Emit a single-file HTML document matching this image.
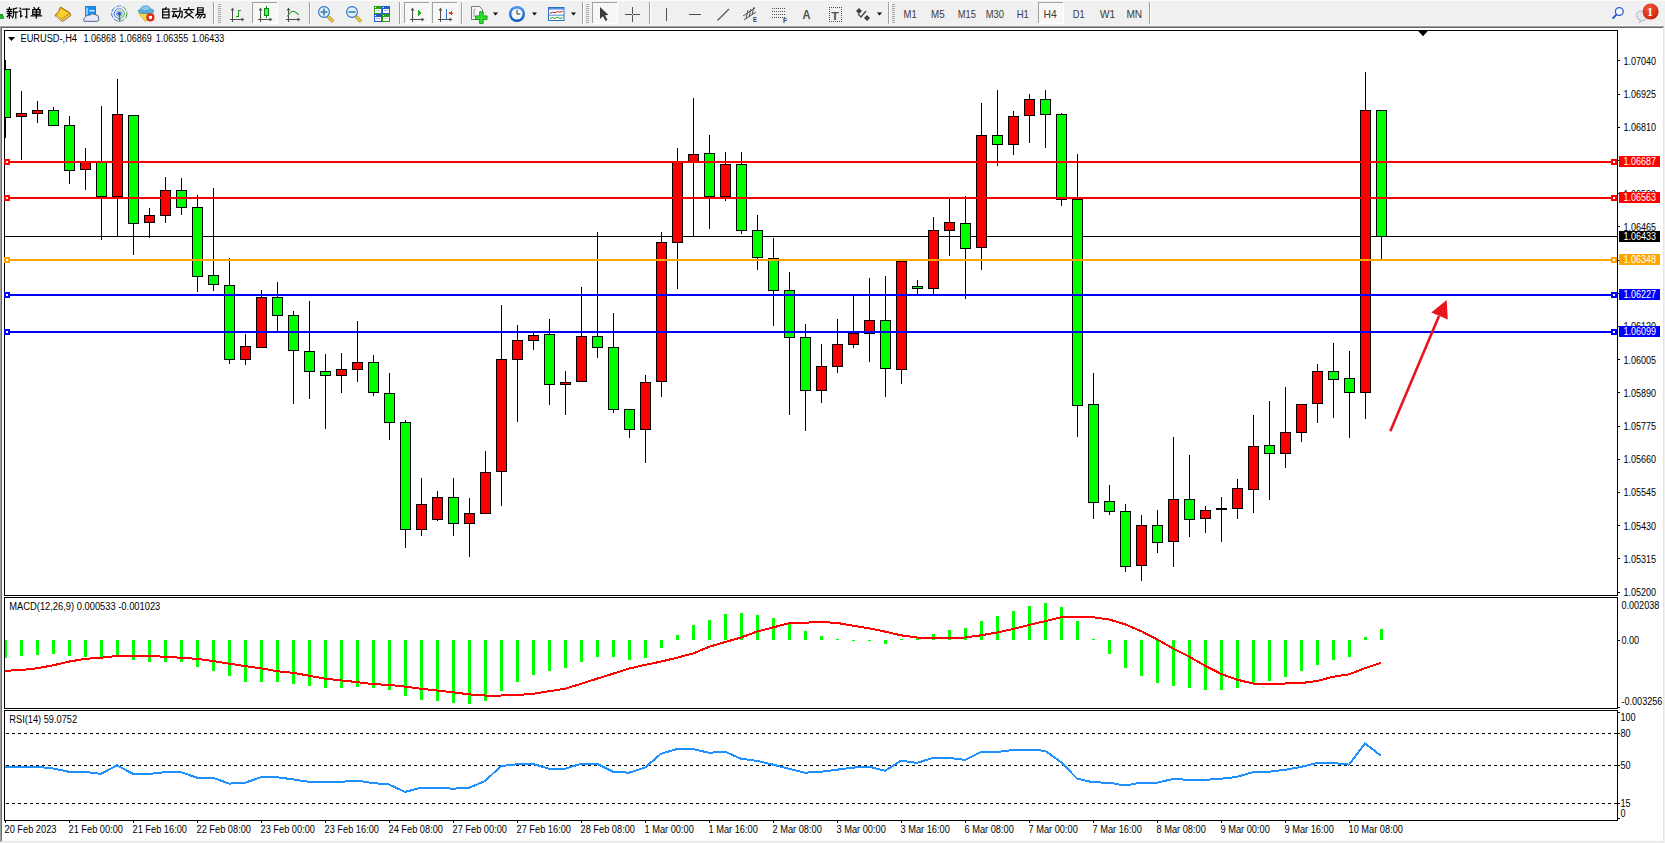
<!DOCTYPE html><html><head><meta charset="utf-8"><style>html,body{margin:0;padding:0;background:#f0f0f0;overflow:hidden;}svg{display:block;}text{font-family:"Liberation Sans",sans-serif;}</style></head><body><svg width="1665" height="843" viewBox="0 0 1665 843" font-family="Liberation Sans, sans-serif" shape-rendering="crispEdges">
<defs><clipPath id="cm"><rect x="5" y="31" width="1612" height="564"/></clipPath><clipPath id="cd"><rect x="5" y="598" width="1612" height="110"/></clipPath><clipPath id="cr"><rect x="5" y="711" width="1612" height="109"/></clipPath></defs>
<rect x="0" y="0" width="1665" height="843" fill="#f0f0f0"/>
<rect x="0" y="0" width="1665" height="1" fill="#fbfbfb"/>
<rect x="0" y="25" width="1664" height="1" fill="#f9f9f9"/>
<rect x="0" y="26" width="1664" height="1" fill="#a0a0a0"/>
<rect x="0" y="26" width="1" height="816" fill="#a0a0a0"/>
<rect x="1" y="27" width="1662" height="1" fill="#696969"/>
<rect x="1" y="27" width="1" height="814" fill="#696969"/>
<rect x="1663" y="27" width="1" height="815" fill="#e3e3e3"/>
<rect x="1" y="841" width="1663" height="1" fill="#e3e3e3"/>
<rect x="2" y="28" width="1661" height="813" fill="#ffffff"/>
<g clip-path="url(#cm)">
<rect x="5" y="236" width="1612" height="1" fill="#000"/>
<rect x="5" y="60" width="1" height="78" fill="#000"/>
<rect x="0" y="69" width="11" height="49" fill="#000"/>
<rect x="1" y="70" width="9" height="47" fill="#00ff00"/>
<rect x="21" y="91" width="1" height="69" fill="#000"/>
<rect x="16" y="113" width="11" height="4" fill="#000"/>
<rect x="17" y="114" width="9" height="2" fill="#ff0000"/>
<rect x="37" y="101" width="1" height="22" fill="#000"/>
<rect x="32" y="110" width="11" height="4" fill="#000"/>
<rect x="33" y="111" width="9" height="2" fill="#ff0000"/>
<rect x="53" y="107" width="1" height="19" fill="#000"/>
<rect x="48" y="110" width="11" height="16" fill="#000"/>
<rect x="49" y="111" width="9" height="14" fill="#00ff00"/>
<rect x="69" y="116" width="1" height="68" fill="#000"/>
<rect x="64" y="125" width="11" height="46" fill="#000"/>
<rect x="65" y="126" width="9" height="44" fill="#00ff00"/>
<rect x="85" y="148" width="1" height="42" fill="#000"/>
<rect x="80" y="162" width="11" height="8" fill="#000"/>
<rect x="81" y="163" width="9" height="6" fill="#ff0000"/>
<rect x="101" y="106" width="1" height="134" fill="#000"/>
<rect x="96" y="162" width="11" height="35" fill="#000"/>
<rect x="97" y="163" width="9" height="33" fill="#00ff00"/>
<rect x="117" y="79" width="1" height="157" fill="#000"/>
<rect x="112" y="114" width="11" height="83" fill="#000"/>
<rect x="113" y="115" width="9" height="81" fill="#ff0000"/>
<rect x="133" y="115" width="1" height="140" fill="#000"/>
<rect x="128" y="115" width="11" height="109" fill="#000"/>
<rect x="129" y="116" width="9" height="107" fill="#00ff00"/>
<rect x="149" y="208" width="1" height="30" fill="#000"/>
<rect x="144" y="215" width="11" height="8" fill="#000"/>
<rect x="145" y="216" width="9" height="6" fill="#ff0000"/>
<rect x="165" y="177" width="1" height="46" fill="#000"/>
<rect x="160" y="190" width="11" height="26" fill="#000"/>
<rect x="161" y="191" width="9" height="24" fill="#ff0000"/>
<rect x="181" y="178" width="1" height="37" fill="#000"/>
<rect x="176" y="190" width="11" height="18" fill="#000"/>
<rect x="177" y="191" width="9" height="16" fill="#00ff00"/>
<rect x="197" y="195" width="1" height="97" fill="#000"/>
<rect x="192" y="207" width="11" height="70" fill="#000"/>
<rect x="193" y="208" width="9" height="68" fill="#00ff00"/>
<rect x="213" y="188" width="1" height="103" fill="#000"/>
<rect x="208" y="275" width="11" height="10" fill="#000"/>
<rect x="209" y="276" width="9" height="8" fill="#00ff00"/>
<rect x="229" y="258" width="1" height="106" fill="#000"/>
<rect x="224" y="285" width="11" height="75" fill="#000"/>
<rect x="225" y="286" width="9" height="73" fill="#00ff00"/>
<rect x="245" y="334" width="1" height="31" fill="#000"/>
<rect x="240" y="346" width="11" height="14" fill="#000"/>
<rect x="241" y="347" width="9" height="12" fill="#ff0000"/>
<rect x="261" y="290" width="1" height="58" fill="#000"/>
<rect x="256" y="297" width="11" height="51" fill="#000"/>
<rect x="257" y="298" width="9" height="49" fill="#ff0000"/>
<rect x="277" y="282" width="1" height="49" fill="#000"/>
<rect x="272" y="297" width="11" height="19" fill="#000"/>
<rect x="273" y="298" width="9" height="17" fill="#00ff00"/>
<rect x="293" y="311" width="1" height="93" fill="#000"/>
<rect x="288" y="315" width="11" height="36" fill="#000"/>
<rect x="289" y="316" width="9" height="34" fill="#00ff00"/>
<rect x="309" y="301" width="1" height="98" fill="#000"/>
<rect x="304" y="351" width="11" height="21" fill="#000"/>
<rect x="305" y="352" width="9" height="19" fill="#00ff00"/>
<rect x="325" y="354" width="1" height="75" fill="#000"/>
<rect x="320" y="371" width="11" height="5" fill="#000"/>
<rect x="321" y="372" width="9" height="3" fill="#00ff00"/>
<rect x="341" y="353" width="1" height="40" fill="#000"/>
<rect x="336" y="369" width="11" height="7" fill="#000"/>
<rect x="337" y="370" width="9" height="5" fill="#ff0000"/>
<rect x="357" y="321" width="1" height="61" fill="#000"/>
<rect x="352" y="362" width="11" height="8" fill="#000"/>
<rect x="353" y="363" width="9" height="6" fill="#ff0000"/>
<rect x="373" y="355" width="1" height="41" fill="#000"/>
<rect x="368" y="362" width="11" height="31" fill="#000"/>
<rect x="369" y="363" width="9" height="29" fill="#00ff00"/>
<rect x="389" y="373" width="1" height="67" fill="#000"/>
<rect x="384" y="393" width="11" height="30" fill="#000"/>
<rect x="385" y="394" width="9" height="28" fill="#00ff00"/>
<rect x="405" y="420" width="1" height="128" fill="#000"/>
<rect x="400" y="422" width="11" height="108" fill="#000"/>
<rect x="401" y="423" width="9" height="106" fill="#00ff00"/>
<rect x="421" y="478" width="1" height="58" fill="#000"/>
<rect x="416" y="504" width="11" height="26" fill="#000"/>
<rect x="417" y="505" width="9" height="24" fill="#ff0000"/>
<rect x="437" y="491" width="1" height="30" fill="#000"/>
<rect x="432" y="497" width="11" height="23" fill="#000"/>
<rect x="433" y="498" width="9" height="21" fill="#ff0000"/>
<rect x="453" y="478" width="1" height="58" fill="#000"/>
<rect x="448" y="497" width="11" height="27" fill="#000"/>
<rect x="449" y="498" width="9" height="25" fill="#00ff00"/>
<rect x="469" y="498" width="1" height="59" fill="#000"/>
<rect x="464" y="513" width="11" height="11" fill="#000"/>
<rect x="465" y="514" width="9" height="9" fill="#ff0000"/>
<rect x="485" y="451" width="1" height="63" fill="#000"/>
<rect x="480" y="472" width="11" height="42" fill="#000"/>
<rect x="481" y="473" width="9" height="40" fill="#ff0000"/>
<rect x="501" y="305" width="1" height="201" fill="#000"/>
<rect x="496" y="359" width="11" height="113" fill="#000"/>
<rect x="497" y="360" width="9" height="111" fill="#ff0000"/>
<rect x="517" y="325" width="1" height="97" fill="#000"/>
<rect x="512" y="340" width="11" height="20" fill="#000"/>
<rect x="513" y="341" width="9" height="18" fill="#ff0000"/>
<rect x="533" y="332" width="1" height="18" fill="#000"/>
<rect x="528" y="335" width="11" height="6" fill="#000"/>
<rect x="529" y="336" width="9" height="4" fill="#ff0000"/>
<rect x="549" y="319" width="1" height="86" fill="#000"/>
<rect x="544" y="334" width="11" height="51" fill="#000"/>
<rect x="545" y="335" width="9" height="49" fill="#00ff00"/>
<rect x="565" y="371" width="1" height="44" fill="#000"/>
<rect x="560" y="382" width="11" height="3" fill="#000"/>
<rect x="561" y="383" width="9" height="1" fill="#ff0000"/>
<rect x="581" y="287" width="1" height="95" fill="#000"/>
<rect x="576" y="336" width="11" height="46" fill="#000"/>
<rect x="577" y="337" width="9" height="44" fill="#ff0000"/>
<rect x="597" y="232" width="1" height="126" fill="#000"/>
<rect x="592" y="336" width="11" height="12" fill="#000"/>
<rect x="593" y="337" width="9" height="10" fill="#00ff00"/>
<rect x="613" y="313" width="1" height="100" fill="#000"/>
<rect x="608" y="347" width="11" height="63" fill="#000"/>
<rect x="609" y="348" width="9" height="61" fill="#00ff00"/>
<rect x="629" y="409" width="1" height="29" fill="#000"/>
<rect x="624" y="409" width="11" height="21" fill="#000"/>
<rect x="625" y="410" width="9" height="19" fill="#00ff00"/>
<rect x="645" y="375" width="1" height="88" fill="#000"/>
<rect x="640" y="382" width="11" height="48" fill="#000"/>
<rect x="641" y="383" width="9" height="46" fill="#ff0000"/>
<rect x="661" y="232" width="1" height="165" fill="#000"/>
<rect x="656" y="242" width="11" height="140" fill="#000"/>
<rect x="657" y="243" width="9" height="138" fill="#ff0000"/>
<rect x="677" y="148" width="1" height="141" fill="#000"/>
<rect x="672" y="162" width="11" height="81" fill="#000"/>
<rect x="673" y="163" width="9" height="79" fill="#ff0000"/>
<rect x="693" y="98" width="1" height="138" fill="#000"/>
<rect x="688" y="154" width="11" height="9" fill="#000"/>
<rect x="689" y="155" width="9" height="7" fill="#ff0000"/>
<rect x="709" y="135" width="1" height="94" fill="#000"/>
<rect x="704" y="153" width="11" height="44" fill="#000"/>
<rect x="705" y="154" width="9" height="42" fill="#00ff00"/>
<rect x="725" y="152" width="1" height="49" fill="#000"/>
<rect x="720" y="164" width="11" height="33" fill="#000"/>
<rect x="721" y="165" width="9" height="31" fill="#ff0000"/>
<rect x="741" y="152" width="1" height="82" fill="#000"/>
<rect x="736" y="164" width="11" height="67" fill="#000"/>
<rect x="737" y="165" width="9" height="65" fill="#00ff00"/>
<rect x="757" y="215" width="1" height="55" fill="#000"/>
<rect x="752" y="230" width="11" height="28" fill="#000"/>
<rect x="753" y="231" width="9" height="26" fill="#00ff00"/>
<rect x="773" y="238" width="1" height="88" fill="#000"/>
<rect x="768" y="258" width="11" height="33" fill="#000"/>
<rect x="769" y="259" width="9" height="31" fill="#00ff00"/>
<rect x="789" y="272" width="1" height="143" fill="#000"/>
<rect x="784" y="290" width="11" height="48" fill="#000"/>
<rect x="785" y="291" width="9" height="46" fill="#00ff00"/>
<rect x="805" y="324" width="1" height="107" fill="#000"/>
<rect x="800" y="337" width="11" height="54" fill="#000"/>
<rect x="801" y="338" width="9" height="52" fill="#00ff00"/>
<rect x="821" y="344" width="1" height="59" fill="#000"/>
<rect x="816" y="366" width="11" height="25" fill="#000"/>
<rect x="817" y="367" width="9" height="23" fill="#ff0000"/>
<rect x="837" y="319" width="1" height="54" fill="#000"/>
<rect x="832" y="344" width="11" height="23" fill="#000"/>
<rect x="833" y="345" width="9" height="21" fill="#ff0000"/>
<rect x="853" y="296" width="1" height="52" fill="#000"/>
<rect x="848" y="333" width="11" height="12" fill="#000"/>
<rect x="849" y="334" width="9" height="10" fill="#ff0000"/>
<rect x="869" y="278" width="1" height="84" fill="#000"/>
<rect x="864" y="320" width="11" height="14" fill="#000"/>
<rect x="865" y="321" width="9" height="12" fill="#ff0000"/>
<rect x="885" y="276" width="1" height="121" fill="#000"/>
<rect x="880" y="320" width="11" height="49" fill="#000"/>
<rect x="881" y="321" width="9" height="47" fill="#00ff00"/>
<rect x="901" y="261" width="1" height="123" fill="#000"/>
<rect x="896" y="261" width="11" height="109" fill="#000"/>
<rect x="897" y="262" width="9" height="107" fill="#ff0000"/>
<rect x="917" y="280" width="1" height="14" fill="#000"/>
<rect x="912" y="286" width="11" height="3" fill="#000"/>
<rect x="913" y="287" width="9" height="1" fill="#00ff00"/>
<rect x="933" y="217" width="1" height="77" fill="#000"/>
<rect x="928" y="230" width="11" height="59" fill="#000"/>
<rect x="929" y="231" width="9" height="57" fill="#ff0000"/>
<rect x="949" y="199" width="1" height="57" fill="#000"/>
<rect x="944" y="222" width="11" height="9" fill="#000"/>
<rect x="945" y="223" width="9" height="7" fill="#ff0000"/>
<rect x="965" y="196" width="1" height="103" fill="#000"/>
<rect x="960" y="223" width="11" height="26" fill="#000"/>
<rect x="961" y="224" width="9" height="24" fill="#00ff00"/>
<rect x="981" y="103" width="1" height="167" fill="#000"/>
<rect x="976" y="135" width="11" height="113" fill="#000"/>
<rect x="977" y="136" width="9" height="111" fill="#ff0000"/>
<rect x="997" y="90" width="1" height="76" fill="#000"/>
<rect x="992" y="135" width="11" height="10" fill="#000"/>
<rect x="993" y="136" width="9" height="8" fill="#00ff00"/>
<rect x="1013" y="111" width="1" height="44" fill="#000"/>
<rect x="1008" y="116" width="11" height="29" fill="#000"/>
<rect x="1009" y="117" width="9" height="27" fill="#ff0000"/>
<rect x="1029" y="94" width="1" height="49" fill="#000"/>
<rect x="1024" y="99" width="11" height="17" fill="#000"/>
<rect x="1025" y="100" width="9" height="15" fill="#ff0000"/>
<rect x="1045" y="90" width="1" height="58" fill="#000"/>
<rect x="1040" y="99" width="11" height="16" fill="#000"/>
<rect x="1041" y="100" width="9" height="14" fill="#00ff00"/>
<rect x="1061" y="113" width="1" height="93" fill="#000"/>
<rect x="1056" y="114" width="11" height="86" fill="#000"/>
<rect x="1057" y="115" width="9" height="84" fill="#00ff00"/>
<rect x="1077" y="154" width="1" height="283" fill="#000"/>
<rect x="1072" y="199" width="11" height="207" fill="#000"/>
<rect x="1073" y="200" width="9" height="205" fill="#00ff00"/>
<rect x="1093" y="373" width="1" height="146" fill="#000"/>
<rect x="1088" y="404" width="11" height="99" fill="#000"/>
<rect x="1089" y="405" width="9" height="97" fill="#00ff00"/>
<rect x="1109" y="485" width="1" height="30" fill="#000"/>
<rect x="1104" y="501" width="11" height="11" fill="#000"/>
<rect x="1105" y="502" width="9" height="9" fill="#00ff00"/>
<rect x="1125" y="504" width="1" height="68" fill="#000"/>
<rect x="1120" y="511" width="11" height="56" fill="#000"/>
<rect x="1121" y="512" width="9" height="54" fill="#00ff00"/>
<rect x="1141" y="515" width="1" height="66" fill="#000"/>
<rect x="1136" y="525" width="11" height="41" fill="#000"/>
<rect x="1137" y="526" width="9" height="39" fill="#ff0000"/>
<rect x="1157" y="510" width="1" height="43" fill="#000"/>
<rect x="1152" y="525" width="11" height="18" fill="#000"/>
<rect x="1153" y="526" width="9" height="16" fill="#00ff00"/>
<rect x="1173" y="437" width="1" height="130" fill="#000"/>
<rect x="1168" y="499" width="11" height="43" fill="#000"/>
<rect x="1169" y="500" width="9" height="41" fill="#ff0000"/>
<rect x="1189" y="455" width="1" height="82" fill="#000"/>
<rect x="1184" y="499" width="11" height="21" fill="#000"/>
<rect x="1185" y="500" width="9" height="19" fill="#00ff00"/>
<rect x="1205" y="506" width="1" height="27" fill="#000"/>
<rect x="1200" y="510" width="11" height="9" fill="#000"/>
<rect x="1201" y="511" width="9" height="7" fill="#ff0000"/>
<rect x="1221" y="497" width="1" height="45" fill="#000"/>
<rect x="1216" y="508" width="11" height="2" fill="#000"/>
<rect x="1237" y="479" width="1" height="40" fill="#000"/>
<rect x="1232" y="488" width="11" height="21" fill="#000"/>
<rect x="1233" y="489" width="9" height="19" fill="#ff0000"/>
<rect x="1253" y="415" width="1" height="98" fill="#000"/>
<rect x="1248" y="446" width="11" height="44" fill="#000"/>
<rect x="1249" y="447" width="9" height="42" fill="#ff0000"/>
<rect x="1269" y="401" width="1" height="99" fill="#000"/>
<rect x="1264" y="445" width="11" height="9" fill="#000"/>
<rect x="1265" y="446" width="9" height="7" fill="#00ff00"/>
<rect x="1285" y="387" width="1" height="81" fill="#000"/>
<rect x="1280" y="432" width="11" height="22" fill="#000"/>
<rect x="1281" y="433" width="9" height="20" fill="#ff0000"/>
<rect x="1301" y="404" width="1" height="38" fill="#000"/>
<rect x="1296" y="404" width="11" height="29" fill="#000"/>
<rect x="1297" y="405" width="9" height="27" fill="#ff0000"/>
<rect x="1317" y="364" width="1" height="59" fill="#000"/>
<rect x="1312" y="371" width="11" height="33" fill="#000"/>
<rect x="1313" y="372" width="9" height="31" fill="#ff0000"/>
<rect x="1333" y="343" width="1" height="75" fill="#000"/>
<rect x="1328" y="371" width="11" height="9" fill="#000"/>
<rect x="1329" y="372" width="9" height="7" fill="#00ff00"/>
<rect x="1349" y="351" width="1" height="87" fill="#000"/>
<rect x="1344" y="378" width="11" height="15" fill="#000"/>
<rect x="1345" y="379" width="9" height="13" fill="#00ff00"/>
<rect x="1365" y="72" width="1" height="347" fill="#000"/>
<rect x="1360" y="110" width="11" height="283" fill="#000"/>
<rect x="1361" y="111" width="9" height="281" fill="#ff0000"/>
<rect x="1381" y="110" width="1" height="149" fill="#000"/>
<rect x="1376" y="110" width="11" height="127" fill="#000"/>
<rect x="1377" y="111" width="9" height="125" fill="#00ff00"/>
</g>
<rect x="5" y="161" width="1612" height="2" fill="#ff0000"/>
<rect x="4" y="159" width="6" height="6" fill="#ff0000"/>
<rect x="6" y="161" width="2" height="2" fill="#fff"/>
<rect x="1611" y="159" width="6" height="6" fill="#ff0000"/>
<rect x="1613" y="161" width="2" height="2" fill="#fff"/>
<rect x="5" y="197" width="1612" height="2" fill="#ff0000"/>
<rect x="4" y="195" width="6" height="6" fill="#ff0000"/>
<rect x="6" y="197" width="2" height="2" fill="#fff"/>
<rect x="1611" y="195" width="6" height="6" fill="#ff0000"/>
<rect x="1613" y="197" width="2" height="2" fill="#fff"/>
<rect x="5" y="259" width="1612" height="2" fill="#ffa500"/>
<rect x="4" y="257" width="6" height="6" fill="#ffa500"/>
<rect x="6" y="259" width="2" height="2" fill="#fff"/>
<rect x="1611" y="257" width="6" height="6" fill="#ffa500"/>
<rect x="1613" y="259" width="2" height="2" fill="#fff"/>
<rect x="5" y="294" width="1612" height="2" fill="#0000ff"/>
<rect x="4" y="292" width="6" height="6" fill="#0000ff"/>
<rect x="6" y="294" width="2" height="2" fill="#fff"/>
<rect x="1611" y="292" width="6" height="6" fill="#0000ff"/>
<rect x="1613" y="294" width="2" height="2" fill="#fff"/>
<rect x="5" y="331" width="1612" height="2" fill="#0000ff"/>
<rect x="4" y="329" width="6" height="6" fill="#0000ff"/>
<rect x="6" y="331" width="2" height="2" fill="#fff"/>
<rect x="1611" y="329" width="6" height="6" fill="#0000ff"/>
<rect x="1613" y="331" width="2" height="2" fill="#fff"/>
<polygon points="1417.5,30 1428.5,30 1423,36" fill="#000" shape-rendering="auto"/>
<g shape-rendering="auto"><line x1="1390.3" y1="431.2" x2="1439" y2="316" stroke="#e8141e" stroke-width="2.6"/><polygon points="1446.7,300 1431.3,312.5 1447.8,319.5" fill="#e8141e"/></g>
<g clip-path="url(#cd)">
<rect x="4" y="640" width="3" height="18" fill="#00ff00"/>
<rect x="20" y="640" width="3" height="16" fill="#00ff00"/>
<rect x="36" y="640" width="3" height="15" fill="#00ff00"/>
<rect x="52" y="640" width="3" height="14" fill="#00ff00"/>
<rect x="68" y="640" width="3" height="16" fill="#00ff00"/>
<rect x="84" y="640" width="3" height="17" fill="#00ff00"/>
<rect x="100" y="640" width="3" height="18" fill="#00ff00"/>
<rect x="116" y="640" width="3" height="16" fill="#00ff00"/>
<rect x="132" y="640" width="3" height="20" fill="#00ff00"/>
<rect x="148" y="640" width="3" height="22" fill="#00ff00"/>
<rect x="164" y="640" width="3" height="22" fill="#00ff00"/>
<rect x="180" y="640" width="3" height="22" fill="#00ff00"/>
<rect x="196" y="640" width="3" height="27" fill="#00ff00"/>
<rect x="212" y="640" width="3" height="31" fill="#00ff00"/>
<rect x="228" y="640" width="3" height="36" fill="#00ff00"/>
<rect x="244" y="640" width="3" height="42" fill="#00ff00"/>
<rect x="260" y="640" width="3" height="42" fill="#00ff00"/>
<rect x="276" y="640" width="3" height="42" fill="#00ff00"/>
<rect x="292" y="640" width="3" height="44" fill="#00ff00"/>
<rect x="308" y="640" width="3" height="46" fill="#00ff00"/>
<rect x="324" y="640" width="3" height="48" fill="#00ff00"/>
<rect x="340" y="640" width="3" height="48" fill="#00ff00"/>
<rect x="356" y="640" width="3" height="47" fill="#00ff00"/>
<rect x="372" y="640" width="3" height="48" fill="#00ff00"/>
<rect x="388" y="640" width="3" height="50" fill="#00ff00"/>
<rect x="404" y="640" width="3" height="56" fill="#00ff00"/>
<rect x="420" y="640" width="3" height="60" fill="#00ff00"/>
<rect x="436" y="640" width="3" height="61" fill="#00ff00"/>
<rect x="452" y="640" width="3" height="63" fill="#00ff00"/>
<rect x="468" y="640" width="3" height="64" fill="#00ff00"/>
<rect x="484" y="640" width="3" height="61" fill="#00ff00"/>
<rect x="500" y="640" width="3" height="51" fill="#00ff00"/>
<rect x="516" y="640" width="3" height="42" fill="#00ff00"/>
<rect x="532" y="640" width="3" height="35" fill="#00ff00"/>
<rect x="548" y="640" width="3" height="31" fill="#00ff00"/>
<rect x="564" y="640" width="3" height="28" fill="#00ff00"/>
<rect x="580" y="640" width="3" height="22" fill="#00ff00"/>
<rect x="596" y="640" width="3" height="17" fill="#00ff00"/>
<rect x="612" y="640" width="3" height="17" fill="#00ff00"/>
<rect x="628" y="640" width="3" height="20" fill="#00ff00"/>
<rect x="644" y="640" width="3" height="18" fill="#00ff00"/>
<rect x="660" y="640" width="3" height="8" fill="#00ff00"/>
<rect x="676" y="635" width="3" height="5" fill="#00ff00"/>
<rect x="692" y="625" width="3" height="15" fill="#00ff00"/>
<rect x="708" y="620" width="3" height="20" fill="#00ff00"/>
<rect x="724" y="614" width="3" height="26" fill="#00ff00"/>
<rect x="740" y="613" width="3" height="27" fill="#00ff00"/>
<rect x="756" y="615" width="3" height="25" fill="#00ff00"/>
<rect x="772" y="618" width="3" height="22" fill="#00ff00"/>
<rect x="788" y="623" width="3" height="17" fill="#00ff00"/>
<rect x="804" y="631" width="3" height="9" fill="#00ff00"/>
<rect x="820" y="636" width="3" height="4" fill="#00ff00"/>
<rect x="836" y="639" width="3" height="1" fill="#00ff00"/>
<rect x="852" y="640" width="3" height="1" fill="#00ff00"/>
<rect x="868" y="640" width="3" height="1" fill="#00ff00"/>
<rect x="884" y="640" width="3" height="4" fill="#00ff00"/>
<rect x="900" y="639" width="3" height="1" fill="#00ff00"/>
<rect x="916" y="638" width="3" height="2" fill="#00ff00"/>
<rect x="932" y="634" width="3" height="6" fill="#00ff00"/>
<rect x="948" y="630" width="3" height="10" fill="#00ff00"/>
<rect x="964" y="628" width="3" height="12" fill="#00ff00"/>
<rect x="980" y="621" width="3" height="19" fill="#00ff00"/>
<rect x="996" y="616" width="3" height="24" fill="#00ff00"/>
<rect x="1012" y="611" width="3" height="29" fill="#00ff00"/>
<rect x="1028" y="606" width="3" height="34" fill="#00ff00"/>
<rect x="1044" y="603" width="3" height="37" fill="#00ff00"/>
<rect x="1060" y="607" width="3" height="33" fill="#00ff00"/>
<rect x="1076" y="621" width="3" height="19" fill="#00ff00"/>
<rect x="1092" y="639" width="3" height="1" fill="#00ff00"/>
<rect x="1108" y="640" width="3" height="14" fill="#00ff00"/>
<rect x="1124" y="640" width="3" height="28" fill="#00ff00"/>
<rect x="1140" y="640" width="3" height="36" fill="#00ff00"/>
<rect x="1156" y="640" width="3" height="43" fill="#00ff00"/>
<rect x="1172" y="640" width="3" height="46" fill="#00ff00"/>
<rect x="1188" y="640" width="3" height="48" fill="#00ff00"/>
<rect x="1204" y="640" width="3" height="50" fill="#00ff00"/>
<rect x="1220" y="640" width="3" height="50" fill="#00ff00"/>
<rect x="1236" y="640" width="3" height="48" fill="#00ff00"/>
<rect x="1252" y="640" width="3" height="43" fill="#00ff00"/>
<rect x="1268" y="640" width="3" height="41" fill="#00ff00"/>
<rect x="1284" y="640" width="3" height="37" fill="#00ff00"/>
<rect x="1300" y="640" width="3" height="31" fill="#00ff00"/>
<rect x="1316" y="640" width="3" height="25" fill="#00ff00"/>
<rect x="1332" y="640" width="3" height="20" fill="#00ff00"/>
<rect x="1348" y="640" width="3" height="17" fill="#00ff00"/>
<rect x="1364" y="637" width="3" height="3" fill="#00ff00"/>
<rect x="1380" y="629" width="3" height="11" fill="#00ff00"/>
<polyline points="5,670.8 21,670 37,668.3 53,665.3 69,661.6 85,658.9 101,657.7 117,656 133,655.7 149,655.7 165,656.9 181,657.7 197,658.9 213,661 229,663.6 245,666.1 261,668.3 277,671.2 293,672.8 309,675.7 325,678.7 341,680.4 357,682.1 373,684.1 389,684.9 405,686.6 421,688.8 437,690.5 453,692.2 469,694.4 485,695.5 501,695.5 517,695 533,693.9 549,691.2 565,688.8 581,683.8 597,678.7 613,673.7 629,668.6 645,664.9 661,661.6 677,657.7 693,653.5 709,646.8 725,642.1 741,637.5 757,631.6 773,627.4 789,623.2 805,622.7 821,622 837,622.9 853,625.7 869,628.3 885,631.6 901,635.3 917,637.5 933,637.9 949,637.9 965,637.5 981,635.3 997,632.5 1013,629.1 1029,624.9 1045,621.2 1061,617.3 1077,616.8 1093,617.2 1109,619.5 1125,624.3 1141,631.1 1157,639.3 1173,648.4 1189,656.6 1205,665.7 1221,673.9 1237,679.7 1253,683.5 1269,683.5 1285,683.5 1301,683.1 1317,681 1333,676.8 1349,674.3 1365,668.2 1381,662.8" fill="none" stroke="#ff0000" stroke-width="2" stroke-linejoin="round"/>
</g>
<g clip-path="url(#cr)">
<line x1="6" y1="733.5" x2="1617" y2="733.5" stroke="#000" stroke-width="1" stroke-dasharray="3,3"/>
<line x1="6" y1="765.5" x2="1617" y2="765.5" stroke="#000" stroke-width="1" stroke-dasharray="3,3"/>
<line x1="6" y1="803.5" x2="1617" y2="803.5" stroke="#000" stroke-width="1" stroke-dasharray="3,3"/>
<polyline points="5,766.8 21,766.8 37,766.8 53,768.5 69,771.8 85,771.8 101,773.9 117,765.3 133,773.9 149,773.9 165,772.2 181,772.2 197,777.7 213,777.7 229,783.6 245,782.8 261,777.2 277,777.2 293,779.4 309,781.8 325,781.8 341,781.8 357,780.6 373,783.1 389,784.5 405,791.9 421,787.8 437,787.8 453,788.7 469,787.8 485,781.1 501,766 517,764.3 533,763.8 549,768.8 565,768.8 581,763.8 597,763.8 613,771.7 629,772.7 645,767.6 661,753.7 677,749.1 693,749.1 709,752.8 725,751.7 741,758.7 757,760.9 773,764.6 789,768.8 805,772.7 821,771.7 837,769.7 853,767.6 869,766.6 885,770.8 901,760.7 917,762.9 933,757.9 949,757.9 965,759.9 981,752 997,752 1013,750 1029,750 1045,750.7 1061,762.1 1077,778.6 1093,782.3 1109,782.7 1125,785.5 1141,782.7 1157,782.7 1173,779 1189,779.8 1205,779.8 1221,778.8 1237,776.9 1253,772.1 1269,771.7 1285,769.8 1301,766.9 1317,763 1333,763 1349,764.6 1365,743.4 1381,755.7" fill="none" stroke="#1e90ff" stroke-width="2" stroke-linejoin="round"/>
</g>
<rect x="4" y="30" width="1614" height="1" fill="#000"/>
<rect x="4" y="595" width="1614" height="1" fill="#000"/>
<rect x="4" y="30" width="1" height="566" fill="#000"/>
<rect x="1617" y="30" width="1" height="566" fill="#000"/>
<rect x="4" y="597" width="1614" height="1" fill="#000"/>
<rect x="4" y="708" width="1614" height="1" fill="#000"/>
<rect x="4" y="597" width="1" height="112" fill="#000"/>
<rect x="1617" y="597" width="1" height="112" fill="#000"/>
<rect x="4" y="710" width="1614" height="1" fill="#000"/>
<rect x="4" y="820" width="1614" height="1" fill="#000"/>
<rect x="4" y="710" width="1" height="111" fill="#000"/>
<rect x="1617" y="710" width="1" height="111" fill="#000"/>
<rect x="4" y="159" width="6" height="6" fill="#ff0000"/>
<rect x="6" y="161" width="2" height="2" fill="#fff"/>
<rect x="4" y="195" width="6" height="6" fill="#ff0000"/>
<rect x="6" y="197" width="2" height="2" fill="#fff"/>
<rect x="4" y="257" width="6" height="6" fill="#ffa500"/>
<rect x="6" y="259" width="2" height="2" fill="#fff"/>
<rect x="4" y="292" width="6" height="6" fill="#0000ff"/>
<rect x="6" y="294" width="2" height="2" fill="#fff"/>
<rect x="4" y="329" width="6" height="6" fill="#0000ff"/>
<rect x="6" y="331" width="2" height="2" fill="#fff"/>
<polygon points="1417.5,30 1428.5,30 1423,36" fill="#000" shape-rendering="auto"/>
<polygon points="8,37 15,37 11.5,41" fill="#000" shape-rendering="auto"/>
<g shape-rendering="auto">
<text x="20.5" y="41.8" font-size="10" fill="#000" textLength="56.50" lengthAdjust="spacingAndGlyphs">EURUSD-,H4</text>
<text x="83.5" y="41.8" font-size="10" fill="#000" textLength="32.60" lengthAdjust="spacingAndGlyphs">1.06868</text>
<text x="119.3" y="41.8" font-size="10" fill="#000" textLength="32.60" lengthAdjust="spacingAndGlyphs">1.06869</text>
<text x="155.7" y="41.8" font-size="10" fill="#000" textLength="32.60" lengthAdjust="spacingAndGlyphs">1.06355</text>
<text x="191.7" y="41.8" font-size="10" fill="#000" textLength="32.60" lengthAdjust="spacingAndGlyphs">1.06433</text>
<text x="9.3" y="609.8" font-size="10" fill="#000" textLength="151.00" lengthAdjust="spacingAndGlyphs">MACD(12,26,9) 0.000533 -0.001023</text>
<text x="9.3" y="723" font-size="10" fill="#000" textLength="67.80" lengthAdjust="spacingAndGlyphs">RSI(14) 59.0752</text>
<rect x="1618" y="60" width="2" height="1" fill="#000" shape-rendering="crispEdges"/>
<text x="1623.5" y="64.8" font-size="10" fill="#000" textLength="32.60" lengthAdjust="spacingAndGlyphs">1.07040</text>
<rect x="1618" y="94" width="2" height="1" fill="#000" shape-rendering="crispEdges"/>
<text x="1623.5" y="98.0" font-size="10" fill="#000" textLength="32.60" lengthAdjust="spacingAndGlyphs">1.06925</text>
<rect x="1618" y="127" width="2" height="1" fill="#000" shape-rendering="crispEdges"/>
<text x="1623.5" y="131.2" font-size="10" fill="#000" textLength="32.60" lengthAdjust="spacingAndGlyphs">1.06810</text>
<rect x="1618" y="160" width="2" height="1" fill="#000" shape-rendering="crispEdges"/>
<text x="1623.5" y="164.4" font-size="10" fill="#000" textLength="32.60" lengthAdjust="spacingAndGlyphs">1.06695</text>
<rect x="1618" y="193" width="2" height="1" fill="#000" shape-rendering="crispEdges"/>
<text x="1623.5" y="197.60000000000002" font-size="10" fill="#000" textLength="32.60" lengthAdjust="spacingAndGlyphs">1.06580</text>
<rect x="1618" y="226" width="2" height="1" fill="#000" shape-rendering="crispEdges"/>
<text x="1623.5" y="230.8" font-size="10" fill="#000" textLength="32.60" lengthAdjust="spacingAndGlyphs">1.06465</text>
<rect x="1618" y="260" width="2" height="1" fill="#000" shape-rendering="crispEdges"/>
<text x="1623.5" y="264.0" font-size="10" fill="#000" textLength="32.60" lengthAdjust="spacingAndGlyphs">1.06350</text>
<rect x="1618" y="293" width="2" height="1" fill="#000" shape-rendering="crispEdges"/>
<text x="1623.5" y="297.20000000000005" font-size="10" fill="#000" textLength="32.60" lengthAdjust="spacingAndGlyphs">1.06235</text>
<rect x="1618" y="326" width="2" height="1" fill="#000" shape-rendering="crispEdges"/>
<text x="1623.5" y="330.40000000000003" font-size="10" fill="#000" textLength="32.60" lengthAdjust="spacingAndGlyphs">1.06120</text>
<rect x="1618" y="359" width="2" height="1" fill="#000" shape-rendering="crispEdges"/>
<text x="1623.5" y="363.6" font-size="10" fill="#000" textLength="32.60" lengthAdjust="spacingAndGlyphs">1.06005</text>
<rect x="1618" y="392" width="2" height="1" fill="#000" shape-rendering="crispEdges"/>
<text x="1623.5" y="396.8" font-size="10" fill="#000" textLength="32.60" lengthAdjust="spacingAndGlyphs">1.05890</text>
<rect x="1618" y="426" width="2" height="1" fill="#000" shape-rendering="crispEdges"/>
<text x="1623.5" y="430.00000000000006" font-size="10" fill="#000" textLength="32.60" lengthAdjust="spacingAndGlyphs">1.05775</text>
<rect x="1618" y="459" width="2" height="1" fill="#000" shape-rendering="crispEdges"/>
<text x="1623.5" y="463.20000000000005" font-size="10" fill="#000" textLength="32.60" lengthAdjust="spacingAndGlyphs">1.05660</text>
<rect x="1618" y="492" width="2" height="1" fill="#000" shape-rendering="crispEdges"/>
<text x="1623.5" y="496.40000000000003" font-size="10" fill="#000" textLength="32.60" lengthAdjust="spacingAndGlyphs">1.05545</text>
<rect x="1618" y="525" width="2" height="1" fill="#000" shape-rendering="crispEdges"/>
<text x="1623.5" y="529.6" font-size="10" fill="#000" textLength="32.60" lengthAdjust="spacingAndGlyphs">1.05430</text>
<rect x="1618" y="558" width="2" height="1" fill="#000" shape-rendering="crispEdges"/>
<text x="1623.5" y="562.8000000000001" font-size="10" fill="#000" textLength="32.60" lengthAdjust="spacingAndGlyphs">1.05315</text>
<rect x="1618" y="592" width="2" height="1" fill="#000" shape-rendering="crispEdges"/>
<text x="1623.5" y="596.0" font-size="10" fill="#000" textLength="32.60" lengthAdjust="spacingAndGlyphs">1.05200</text>
<rect x="1619" y="156" width="41" height="11" fill="#ff0000" shape-rendering="crispEdges"/>
<text x="1623.5" y="165.3" font-size="10" fill="#fff" textLength="32.60" lengthAdjust="spacingAndGlyphs">1.06687</text>
<rect x="1619" y="192" width="41" height="11" fill="#ff0000" shape-rendering="crispEdges"/>
<text x="1623.5" y="201.3" font-size="10" fill="#fff" textLength="32.60" lengthAdjust="spacingAndGlyphs">1.06563</text>
<rect x="1619" y="231" width="41" height="11" fill="#000000" shape-rendering="crispEdges"/>
<text x="1623.5" y="240.3" font-size="10" fill="#fff" textLength="32.60" lengthAdjust="spacingAndGlyphs">1.06433</text>
<rect x="1619" y="254" width="41" height="11" fill="#ffa500" shape-rendering="crispEdges"/>
<text x="1623.5" y="263.3" font-size="10" fill="#fff" textLength="32.60" lengthAdjust="spacingAndGlyphs">1.06348</text>
<rect x="1619" y="289" width="41" height="11" fill="#0000ff" shape-rendering="crispEdges"/>
<text x="1623.5" y="298.3" font-size="10" fill="#fff" textLength="32.60" lengthAdjust="spacingAndGlyphs">1.06227</text>
<rect x="1619" y="326" width="41" height="11" fill="#0000ff" shape-rendering="crispEdges"/>
<text x="1623.5" y="335.3" font-size="10" fill="#fff" textLength="32.60" lengthAdjust="spacingAndGlyphs">1.06099</text>
<text x="1621.4" y="608.5" font-size="10" fill="#000" textLength="37.95" lengthAdjust="spacingAndGlyphs">0.002038</text>
<text x="1621.4" y="644.2" font-size="10" fill="#000" textLength="17.71" lengthAdjust="spacingAndGlyphs">0.00</text>
<text x="1621.4" y="705.3000000000001" font-size="10" fill="#000" textLength="40.98" lengthAdjust="spacingAndGlyphs">-0.003256</text>
<rect x="1618" y="640" width="2" height="1" fill="#000" shape-rendering="crispEdges"/>
<rect x="1618" y="707" width="2" height="1" fill="#000" shape-rendering="crispEdges"/>
<text x="1620.5" y="721.2" font-size="10" fill="#000" textLength="15.18" lengthAdjust="spacingAndGlyphs">100</text>
<text x="1620.5" y="737.2" font-size="10" fill="#000" textLength="10.12" lengthAdjust="spacingAndGlyphs">80</text>
<text x="1620.5" y="769.0" font-size="10" fill="#000" textLength="10.12" lengthAdjust="spacingAndGlyphs">50</text>
<text x="1620.5" y="806.7" font-size="10" fill="#000" textLength="10.12" lengthAdjust="spacingAndGlyphs">15</text>
<text x="1620.5" y="816.9000000000001" font-size="10" fill="#000" textLength="5.06" lengthAdjust="spacingAndGlyphs">0</text>
<rect x="1618" y="712" width="2" height="1" fill="#000" shape-rendering="crispEdges"/>
<rect x="1618" y="733" width="2" height="1" fill="#000" shape-rendering="crispEdges"/>
<rect x="1618" y="765" width="2" height="1" fill="#000" shape-rendering="crispEdges"/>
<rect x="1618" y="803" width="2" height="1" fill="#000" shape-rendering="crispEdges"/>
<rect x="1618" y="818" width="2" height="1" fill="#000" shape-rendering="crispEdges"/>
<rect x="5" y="821" width="1" height="2" fill="#000" shape-rendering="crispEdges"/>
<text x="4.5" y="832.6" font-size="10" fill="#000" textLength="51.94" lengthAdjust="spacingAndGlyphs">20 Feb 2023</text>
<rect x="69" y="821" width="1" height="2" fill="#000" shape-rendering="crispEdges"/>
<text x="68.5" y="832.6" font-size="10" fill="#000" textLength="54.51" lengthAdjust="spacingAndGlyphs">21 Feb 00:00</text>
<rect x="133" y="821" width="1" height="2" fill="#000" shape-rendering="crispEdges"/>
<text x="132.5" y="832.6" font-size="10" fill="#000" textLength="54.51" lengthAdjust="spacingAndGlyphs">21 Feb 16:00</text>
<rect x="197" y="821" width="1" height="2" fill="#000" shape-rendering="crispEdges"/>
<text x="196.5" y="832.6" font-size="10" fill="#000" textLength="54.51" lengthAdjust="spacingAndGlyphs">22 Feb 08:00</text>
<rect x="261" y="821" width="1" height="2" fill="#000" shape-rendering="crispEdges"/>
<text x="260.5" y="832.6" font-size="10" fill="#000" textLength="54.51" lengthAdjust="spacingAndGlyphs">23 Feb 00:00</text>
<rect x="325" y="821" width="1" height="2" fill="#000" shape-rendering="crispEdges"/>
<text x="324.5" y="832.6" font-size="10" fill="#000" textLength="54.51" lengthAdjust="spacingAndGlyphs">23 Feb 16:00</text>
<rect x="389" y="821" width="1" height="2" fill="#000" shape-rendering="crispEdges"/>
<text x="388.5" y="832.6" font-size="10" fill="#000" textLength="54.51" lengthAdjust="spacingAndGlyphs">24 Feb 08:00</text>
<rect x="453" y="821" width="1" height="2" fill="#000" shape-rendering="crispEdges"/>
<text x="452.5" y="832.6" font-size="10" fill="#000" textLength="54.51" lengthAdjust="spacingAndGlyphs">27 Feb 00:00</text>
<rect x="517" y="821" width="1" height="2" fill="#000" shape-rendering="crispEdges"/>
<text x="516.5" y="832.6" font-size="10" fill="#000" textLength="54.51" lengthAdjust="spacingAndGlyphs">27 Feb 16:00</text>
<rect x="581" y="821" width="1" height="2" fill="#000" shape-rendering="crispEdges"/>
<text x="580.5" y="832.6" font-size="10" fill="#000" textLength="54.51" lengthAdjust="spacingAndGlyphs">28 Feb 08:00</text>
<rect x="645" y="821" width="1" height="2" fill="#000" shape-rendering="crispEdges"/>
<text x="644.5" y="832.6" font-size="10" fill="#000" textLength="49.36" lengthAdjust="spacingAndGlyphs">1 Mar 00:00</text>
<rect x="709" y="821" width="1" height="2" fill="#000" shape-rendering="crispEdges"/>
<text x="708.5" y="832.6" font-size="10" fill="#000" textLength="49.36" lengthAdjust="spacingAndGlyphs">1 Mar 16:00</text>
<rect x="773" y="821" width="1" height="2" fill="#000" shape-rendering="crispEdges"/>
<text x="772.5" y="832.6" font-size="10" fill="#000" textLength="49.36" lengthAdjust="spacingAndGlyphs">2 Mar 08:00</text>
<rect x="837" y="821" width="1" height="2" fill="#000" shape-rendering="crispEdges"/>
<text x="836.5" y="832.6" font-size="10" fill="#000" textLength="49.36" lengthAdjust="spacingAndGlyphs">3 Mar 00:00</text>
<rect x="901" y="821" width="1" height="2" fill="#000" shape-rendering="crispEdges"/>
<text x="900.5" y="832.6" font-size="10" fill="#000" textLength="49.36" lengthAdjust="spacingAndGlyphs">3 Mar 16:00</text>
<rect x="965" y="821" width="1" height="2" fill="#000" shape-rendering="crispEdges"/>
<text x="964.5" y="832.6" font-size="10" fill="#000" textLength="49.36" lengthAdjust="spacingAndGlyphs">6 Mar 08:00</text>
<rect x="1029" y="821" width="1" height="2" fill="#000" shape-rendering="crispEdges"/>
<text x="1028.5" y="832.6" font-size="10" fill="#000" textLength="49.36" lengthAdjust="spacingAndGlyphs">7 Mar 00:00</text>
<rect x="1093" y="821" width="1" height="2" fill="#000" shape-rendering="crispEdges"/>
<text x="1092.5" y="832.6" font-size="10" fill="#000" textLength="49.36" lengthAdjust="spacingAndGlyphs">7 Mar 16:00</text>
<rect x="1157" y="821" width="1" height="2" fill="#000" shape-rendering="crispEdges"/>
<text x="1156.5" y="832.6" font-size="10" fill="#000" textLength="49.36" lengthAdjust="spacingAndGlyphs">8 Mar 08:00</text>
<rect x="1221" y="821" width="1" height="2" fill="#000" shape-rendering="crispEdges"/>
<text x="1220.5" y="832.6" font-size="10" fill="#000" textLength="49.36" lengthAdjust="spacingAndGlyphs">9 Mar 00:00</text>
<rect x="1285" y="821" width="1" height="2" fill="#000" shape-rendering="crispEdges"/>
<text x="1284.5" y="832.6" font-size="10" fill="#000" textLength="49.36" lengthAdjust="spacingAndGlyphs">9 Mar 16:00</text>
<rect x="1349" y="821" width="1" height="2" fill="#000" shape-rendering="crispEdges"/>
<text x="1348.5" y="832.6" font-size="10" fill="#000" textLength="54.50" lengthAdjust="spacingAndGlyphs">10 Mar 08:00</text>
</g>
<rect x="0" y="14" width="3" height="2" fill="#1aa01a"/>
<rect x="0" y="16" width="4" height="3" fill="#22b422"/>
<g transform="translate(6.6,7.3) scale(0.93)" fill="none" stroke="#000" stroke-width="1.290" stroke-linecap="square" shape-rendering="auto">
<path d="M3,0.3V1.6"/>
<path d="M0.6,2.2H5.4"/>
<path d="M1.6,3.1L2.1,4.1"/>
<path d="M4.4,3.1L3.9,4.1"/>
<path d="M0.4,4.7H5.6"/>
<path d="M0.9,6.7H5.1"/>
<path d="M3,4.7V11.6"/>
<path d="M3,7.6L0.6,10.2"/>
<path d="M3.4,8.2L5,9.6"/>
<path d="M11,0.7L7.4,2"/>
<path d="M7.4,2V7.6Q7.3,10 6.2,11.5"/>
<path d="M7.4,5.2H11.6"/>
<path d="M9.9,5.2V11.7"/>
</g>
<g transform="translate(18.7,7.3) scale(0.93)" fill="none" stroke="#000" stroke-width="1.290" stroke-linecap="square" shape-rendering="auto">
<path d="M1.3,0.8L2.4,2"/>
<path d="M0.6,4.1H2.2V10.2L3.4,9.2"/>
<path d="M4.5,2H11.6"/>
<path d="M8.6,2V11.1L7.5,10.3"/>
</g>
<g transform="translate(30.8,7.3) scale(0.93)" fill="none" stroke="#000" stroke-width="1.290" stroke-linecap="square" shape-rendering="auto">
<path d="M3.4,0.4L4.4,1.8"/>
<path d="M8.6,0.4L7.6,1.8"/>
<path d="M2.1,2.6H9.9V7.6H2.1Z"/>
<path d="M2.1,5.1H9.9"/>
<path d="M6,2.6V11.7"/>
<path d="M0.4,9.2H11.6"/>
</g>
<g shape-rendering="auto"><polygon points="60.5,7 69.5,12.5 70.8,15.5 62.5,21.6 55,15.6 58.5,11.5" fill="#d9a018" stroke="#9a6010" stroke-width="0.9" stroke-linejoin="round"/><polygon points="60.8,8.4 68.6,13.2 61.8,18.6 56.6,15 59.3,11.6" fill="#f6d030"/><polyline points="56.3,16.4 62.5,20.4 69.8,15.2" fill="none" stroke="#f3e2b0" stroke-width="0.9"/></g>
<g shape-rendering="auto"><rect x="85.5" y="6.5" width="10" height="9" fill="#1a8ff0" stroke="#1466c8" stroke-width="0.8"/><polygon points="85.9,6.9 88,8.2 88,15.2 85.9,15.2" fill="#7fcfff"/><rect x="89.5" y="10" width="5" height="1.4" fill="#e0f0ff"/><path d="M84.2,21.3 Q82.3,18.6 85.3,17.2 Q86.2,14.2 89.8,15.1 Q92,12.6 95.2,14.6 Q98.8,14.6 98.6,18 Q99.8,21 97,21.4 Z" fill="#e6ebf3" stroke="#3f5690" stroke-width="0.9"/></g>
<defs><linearGradient id="sg" x1="0" y1="0" x2="1" y2="0"><stop offset="0" stop-color="#2f5fd0"/><stop offset="0.55" stop-color="#6f8fd8"/><stop offset="1" stop-color="#3aa040"/></linearGradient></defs><g shape-rendering="auto" fill="none" stroke="url(#sg)"><circle cx="119.3" cy="13.6" r="7.6" stroke-width="1" stroke-dasharray="5 1.5"/><circle cx="119.3" cy="13.6" r="5" stroke-width="1"/><circle cx="119.3" cy="13.6" r="2.7" stroke-width="0.9"/></g><g shape-rendering="auto"><rect x="118.8" y="13.6" width="1.5" height="8" fill="#22a022"/><circle cx="119.3" cy="13.6" r="1.7" fill="#2450c8"/></g>
<g shape-rendering="auto"><path d="M138.6,13 L145.4,21.6 L153.5,13 Z" fill="#f2d848" stroke="#c0a020" stroke-width="0.7" stroke-linejoin="round"/><ellipse cx="146" cy="11" rx="7.8" ry="2.6" fill="#5ab0e0" stroke="#2f7fb0" stroke-width="0.7"/><ellipse cx="145.6" cy="8.4" rx="4.4" ry="2.6" fill="#86c8f0" stroke="#2f7fb0" stroke-width="0.6"/><circle cx="150.4" cy="17.4" r="4.1" fill="#d8301a"/><rect x="148.9" y="15.9" width="3.1" height="3" fill="#ffffff"/></g>
<g transform="translate(160.3,7.3) scale(0.92)" fill="none" stroke="#000" stroke-width="1.304" stroke-linecap="square" shape-rendering="auto">
<path d="M6.3,0.2L5.2,1.9"/>
<path d="M2.6,2H9.4V11.6H2.6Z"/>
<path d="M2.6,5.1H9.4"/>
<path d="M2.6,8.2H9.4"/>
</g>
<g transform="translate(171.8,7.3) scale(0.92)" fill="none" stroke="#000" stroke-width="1.304" stroke-linecap="square" shape-rendering="auto">
<path d="M1,1.8H5"/>
<path d="M0.4,4.6H5.6"/>
<path d="M3,4.6L1,10.2L5.2,9.4"/>
<path d="M3.9,7.8L5.4,10"/>
<path d="M6.4,4.3H11.2V10.2Q11.1,11.2 9.9,10.6"/>
<path d="M9,0.6V5Q8.7,9 6.3,11.6"/>
</g>
<g transform="translate(183.3,7.3) scale(0.92)" fill="none" stroke="#000" stroke-width="1.304" stroke-linecap="square" shape-rendering="auto">
<path d="M6,0.2V1.6"/>
<path d="M0.7,2.5H11.3"/>
<path d="M4.2,3.6L2.1,5.6"/>
<path d="M7.8,3.6L9.9,5.6"/>
<path d="M3.4,6L10.8,11.6"/>
<path d="M8.6,6L1.2,11.6"/>
</g>
<g transform="translate(194.8,7.3) scale(0.92)" fill="none" stroke="#000" stroke-width="1.304" stroke-linecap="square" shape-rendering="auto">
<path d="M3,0.5H9V5.6H3Z"/>
<path d="M3,3H9"/>
<path d="M3.2,6.4L1,8.8"/>
<path d="M2.6,7.6H11V10.4Q10.9,11.6 9.6,11"/>
<path d="M5.6,7.6L3,11.4"/>
<path d="M8.3,7.6L5.6,11.7"/>
</g>
<rect x="213" y="2" width="1" height="22" fill="#a0a0a0"/>
<rect x="214" y="2" width="1" height="22" fill="#ffffff"/>
<rect x="218" y="4" width="3" height="1" fill="#a8a8a8"/>
<rect x="218" y="6" width="3" height="1" fill="#a8a8a8"/>
<rect x="218" y="8" width="3" height="1" fill="#a8a8a8"/>
<rect x="218" y="10" width="3" height="1" fill="#a8a8a8"/>
<rect x="218" y="12" width="3" height="1" fill="#a8a8a8"/>
<rect x="218" y="14" width="3" height="1" fill="#a8a8a8"/>
<rect x="218" y="16" width="3" height="1" fill="#a8a8a8"/>
<rect x="218" y="18" width="3" height="1" fill="#a8a8a8"/>
<rect x="218" y="20" width="3" height="1" fill="#a8a8a8"/>
<rect x="218" y="22" width="3" height="1" fill="#a8a8a8"/>
<g fill="#505050"><rect x="232" y="9" width="1" height="13"/><rect x="230" y="19" width="13" height="1"/></g><g fill="#505050" shape-rendering="auto"><polygon points="230.6,10.4 232.5,7.6 234.4,10.4"/><polygon points="241.6,17.6 244.4,19.5 241.6,21.4"/></g>
<g fill="#1f9a1f"><rect x="238" y="10" width="1" height="7"/><rect x="239" y="10" width="2" height="1"/><rect x="236" y="16" width="2" height="1"/></g>
<rect x="252" y="2" width="26" height="22" fill="#f7f7f7"/>
<rect x="252" y="2" width="26" height="1" fill="#a0a0a0"/>
<rect x="252" y="2" width="1" height="22" fill="#a0a0a0"/>
<rect x="252" y="23" width="26" height="1" fill="#ffffff"/>
<rect x="277" y="2" width="1" height="22" fill="#ffffff"/>
<g fill="#505050"><rect x="260" y="9" width="1" height="13"/><rect x="258" y="19" width="13" height="1"/></g><g fill="#505050" shape-rendering="auto"><polygon points="258.6,10.4 260.5,7.6 262.4,10.4"/><polygon points="269.6,17.6 272.4,19.5 269.6,21.4"/></g>
<rect x="266" y="6" width="1" height="12" fill="#0a8a0a"/><rect x="264" y="8" width="5" height="8" fill="#0c8c0c"/><rect x="265" y="9" width="3" height="6" fill="#50f050"/>
<g fill="#505050"><rect x="288" y="9" width="1" height="13"/><rect x="286" y="19" width="13" height="1"/></g><g fill="#505050" shape-rendering="auto"><polygon points="286.6,10.4 288.5,7.6 290.4,10.4"/><polygon points="297.6,17.6 300.4,19.5 297.6,21.4"/></g>
<path d="M287.3,16.6 Q290.5,11 293.3,11.2 Q295.6,11.5 298.8,15" fill="none" stroke="#2a9a2a" stroke-width="1.1" shape-rendering="auto"/>
<rect x="309" y="2" width="1" height="22" fill="#a0a0a0"/>
<rect x="310" y="2" width="1" height="22" fill="#ffffff"/>
<g shape-rendering="auto"><line x1="327.8" y1="16.3" x2="333.2" y2="21.6" stroke="#a87818" stroke-width="3.2"/><line x1="327.8" y1="16.3" x2="333.2" y2="21.6" stroke="#f0d848" stroke-width="1.8"/><circle cx="324" cy="12" r="5.4" fill="#dcf0fc" stroke="#2f70c0" stroke-width="1.1"/><rect x="320.6" y="11.1" width="6.8" height="1.8" fill="#4a88b8"/><rect x="323.1" y="8.6" width="1.8" height="6.8" fill="#4a88b8"/></g>
<g shape-rendering="auto"><line x1="355.8" y1="16.3" x2="361.2" y2="21.6" stroke="#a87818" stroke-width="3.2"/><line x1="355.8" y1="16.3" x2="361.2" y2="21.6" stroke="#f0d848" stroke-width="1.8"/><circle cx="352" cy="12" r="5.4" fill="#dcf0fc" stroke="#2f70c0" stroke-width="1.1"/><rect x="348.6" y="11.1" width="6.8" height="1.8" fill="#4a88b8"/></g>
<rect x="374" y="6" width="8" height="8" fill="#2e9e1e"/>
<rect x="375" y="9" width="6" height="4" fill="#ffffff"/>
<rect x="376" y="10" width="4" height="1" fill="#b0d8b0"/>
<rect x="375" y="7" width="1" height="1" fill="#ffffff"/>
<rect x="382" y="6" width="8" height="8" fill="#2458d0"/>
<rect x="383" y="9" width="6" height="4" fill="#ffffff"/>
<rect x="384" y="10" width="4" height="1" fill="#a0b8f0"/>
<rect x="383" y="7" width="1" height="1" fill="#ffffff"/>
<rect x="374" y="14" width="8" height="8" fill="#2458d0"/>
<rect x="375" y="17" width="6" height="4" fill="#ffffff"/>
<rect x="376" y="18" width="4" height="1" fill="#a0b8f0"/>
<rect x="375" y="15" width="1" height="1" fill="#ffffff"/>
<rect x="382" y="14" width="8" height="8" fill="#2e9e1e"/>
<rect x="383" y="17" width="6" height="4" fill="#ffffff"/>
<rect x="384" y="18" width="4" height="1" fill="#b0d8b0"/>
<rect x="383" y="15" width="1" height="1" fill="#ffffff"/>
<rect x="399" y="2" width="1" height="22" fill="#a0a0a0"/>
<rect x="400" y="2" width="1" height="22" fill="#ffffff"/>
<rect x="404" y="2" width="26" height="22" fill="#f7f7f7"/>
<rect x="404" y="2" width="26" height="1" fill="#a0a0a0"/>
<rect x="404" y="2" width="1" height="22" fill="#a0a0a0"/>
<rect x="404" y="23" width="26" height="1" fill="#ffffff"/>
<rect x="429" y="2" width="1" height="22" fill="#ffffff"/>
<g fill="#505050"><rect x="412" y="9" width="1" height="13"/><rect x="410" y="19" width="13" height="1"/></g><g fill="#505050" shape-rendering="auto"><polygon points="410.6,10.4 412.5,7.6 414.4,10.4"/><polygon points="421.6,17.6 424.4,19.5 421.6,21.4"/></g>
<polygon points="418,10 418,16 422,13" fill="#1faa1f"/>
<rect x="432" y="2" width="26" height="22" fill="#f7f7f7"/>
<rect x="432" y="2" width="26" height="1" fill="#a0a0a0"/>
<rect x="432" y="2" width="1" height="22" fill="#a0a0a0"/>
<rect x="432" y="23" width="26" height="1" fill="#ffffff"/>
<rect x="457" y="2" width="1" height="22" fill="#ffffff"/>
<g fill="#505050"><rect x="440" y="9" width="1" height="13"/><rect x="438" y="19" width="13" height="1"/></g><g fill="#505050" shape-rendering="auto"><polygon points="438.6,10.4 440.5,7.6 442.4,10.4"/><polygon points="449.6,17.6 452.4,19.5 449.6,21.4"/></g>
<rect x="446" y="9" width="1" height="10" fill="#2f6fc8"/><polygon points="448,13 452,11 452,15" fill="#d04010"/><rect x="450" y="12.5" width="3" height="1" fill="#d04010"/>
<rect x="461" y="2" width="1" height="22" fill="#a0a0a0"/>
<rect x="462" y="2" width="1" height="22" fill="#ffffff"/>
<g shape-rendering="auto"><path d="M471.5,6.5 H479.5 L482.5,9.5 V19.5 H471.5 Z" fill="#f6f6f6" stroke="#7a7a7a" stroke-width="1"/><path d="M475.5,9 Q474,9 474,11 V17" stroke="#8a8a8a" stroke-width="0.9" fill="none"/><path d="M479.6,11.8 h3.6 v4.1 h3.9 v3.6 h-3.9 v4.1 h-3.6 v-4.1 h-4.1 v-3.6 h4.1 z" fill="#2ee02e" stroke="#0e8a0e" stroke-width="0.8"/></g>
<polygon points="493,12.5 498,12.5 495.5,15.5" fill="#000" shape-rendering="auto"/>
<defs><linearGradient id="cg" x1="0" y1="0" x2="0" y2="1"><stop offset="0" stop-color="#4a9af0"/><stop offset="1" stop-color="#0a50b8"/></linearGradient></defs><g shape-rendering="auto"><circle cx="517" cy="14" r="8" fill="url(#cg)"/><circle cx="517" cy="14" r="5.6" fill="#f6f8fb"/><path d="M517,9.8 V14 H520.2" stroke="#2a2a2a" stroke-width="1" fill="none"/><path d="M517,8.8v0.8 M517,18.4v0.8 M511.8,14h0.8 M521.4,14h0.8" stroke="#8090a8" stroke-width="0.7"/></g>
<polygon points="532,12.5 537,12.5 534.5,15.5" fill="#000" shape-rendering="auto"/>
<g shape-rendering="auto"><rect x="548.5" y="7.5" width="15.5" height="13" fill="#fafcff" stroke="#2f6fc8" stroke-width="1"/><rect x="549" y="8" width="15" height="1.6" fill="#5a90e0"/><path d="M549,15.2 H564" stroke="#2f6fc8" stroke-width="0.8"/><path d="M550,13.3 L552.5,12.2 L555,12.8 L557.5,11.6 L560,12.2 L562.5,11.2" stroke="#b02818" stroke-width="1" fill="none"/><path d="M550,18.6 L552.5,17.6 L555,18.4 L557.5,17 L560,18.6 L562.5,17.6" stroke="#20a020" stroke-width="1" fill="none"/></g>
<polygon points="571,12.5 576,12.5 573.5,15.5" fill="#000" shape-rendering="auto"/>
<rect x="582" y="2" width="1" height="22" fill="#a0a0a0"/>
<rect x="583" y="2" width="1" height="22" fill="#ffffff"/>
<rect x="586" y="4" width="3" height="1" fill="#a8a8a8"/>
<rect x="586" y="6" width="3" height="1" fill="#a8a8a8"/>
<rect x="586" y="8" width="3" height="1" fill="#a8a8a8"/>
<rect x="586" y="10" width="3" height="1" fill="#a8a8a8"/>
<rect x="586" y="12" width="3" height="1" fill="#a8a8a8"/>
<rect x="586" y="14" width="3" height="1" fill="#a8a8a8"/>
<rect x="586" y="16" width="3" height="1" fill="#a8a8a8"/>
<rect x="586" y="18" width="3" height="1" fill="#a8a8a8"/>
<rect x="586" y="20" width="3" height="1" fill="#a8a8a8"/>
<rect x="586" y="22" width="3" height="1" fill="#a8a8a8"/>
<rect x="592" y="2" width="26" height="22" fill="#f7f7f7"/>
<rect x="592" y="2" width="26" height="1" fill="#a0a0a0"/>
<rect x="592" y="2" width="1" height="22" fill="#a0a0a0"/>
<rect x="592" y="23" width="26" height="1" fill="#ffffff"/>
<rect x="617" y="2" width="1" height="22" fill="#ffffff"/>
<polygon points="600,7 600,19 603,16.2 605.5,21 607.5,20 605,15.3 608.5,15" fill="#3a3a3a" shape-rendering="auto"/>
<g fill="#505050"><rect x="632" y="7" width="1" height="15"/><rect x="625" y="14" width="15" height="1"/></g>
<rect x="632" y="14" width="1" height="1" fill="#f0f0f0"/>
<rect x="649" y="2" width="1" height="22" fill="#a0a0a0"/>
<rect x="650" y="2" width="1" height="22" fill="#ffffff"/>
<rect x="666" y="8" width="1" height="13" fill="#505050"/>
<rect x="689" y="14" width="12" height="1" fill="#505050"/>
<line x1="717.5" y1="20.5" x2="729" y2="9" stroke="#505050" stroke-width="1.1" shape-rendering="auto"/>
<g stroke="#505050" stroke-width="1" fill="none" shape-rendering="auto"><path d="M743,16 L755,8 M744,20 L756,12 M746,18 L748,10 M749,17 L751,9 M752,15 L754,7"/></g>
<text x="753" y="22" font-size="6.5" fill="#404040" textLength="4.00" lengthAdjust="spacingAndGlyphs" font-weight="bold">E</text>
<rect x="772" y="8" width="1" height="1" fill="#505050"/>
<rect x="774" y="8" width="1" height="1" fill="#505050"/>
<rect x="776" y="8" width="1" height="1" fill="#505050"/>
<rect x="778" y="8" width="1" height="1" fill="#505050"/>
<rect x="780" y="8" width="1" height="1" fill="#505050"/>
<rect x="782" y="8" width="1" height="1" fill="#505050"/>
<rect x="784" y="8" width="1" height="1" fill="#505050"/>
<rect x="772" y="11" width="1" height="1" fill="#505050"/>
<rect x="774" y="11" width="1" height="1" fill="#505050"/>
<rect x="776" y="11" width="1" height="1" fill="#505050"/>
<rect x="778" y="11" width="1" height="1" fill="#505050"/>
<rect x="780" y="11" width="1" height="1" fill="#505050"/>
<rect x="782" y="11" width="1" height="1" fill="#505050"/>
<rect x="784" y="11" width="1" height="1" fill="#505050"/>
<rect x="772" y="14" width="1" height="1" fill="#505050"/>
<rect x="774" y="14" width="1" height="1" fill="#505050"/>
<rect x="776" y="14" width="1" height="1" fill="#505050"/>
<rect x="778" y="14" width="1" height="1" fill="#505050"/>
<rect x="780" y="14" width="1" height="1" fill="#505050"/>
<rect x="782" y="14" width="1" height="1" fill="#505050"/>
<rect x="784" y="14" width="1" height="1" fill="#505050"/>
<rect x="772" y="17" width="1" height="1" fill="#505050"/>
<rect x="774" y="17" width="1" height="1" fill="#505050"/>
<rect x="776" y="17" width="1" height="1" fill="#505050"/>
<rect x="778" y="17" width="1" height="1" fill="#505050"/>
<rect x="780" y="17" width="1" height="1" fill="#505050"/>
<rect x="782" y="17" width="1" height="1" fill="#505050"/>
<rect x="784" y="17" width="1" height="1" fill="#505050"/>
<text x="783" y="22.5" font-size="6.5" fill="#404040" textLength="4.00" lengthAdjust="spacingAndGlyphs" font-weight="bold">F</text>
<text x="802.5" y="19" font-size="12" fill="#505050" textLength="8.00" lengthAdjust="spacingAndGlyphs" font-weight="bold">A</text>
<rect x="829" y="7" width="1" height="1" fill="#505050"/>
<rect x="829" y="21" width="1" height="1" fill="#505050"/>
<rect x="831" y="7" width="1" height="1" fill="#505050"/>
<rect x="831" y="21" width="1" height="1" fill="#505050"/>
<rect x="833" y="7" width="1" height="1" fill="#505050"/>
<rect x="833" y="21" width="1" height="1" fill="#505050"/>
<rect x="835" y="7" width="1" height="1" fill="#505050"/>
<rect x="835" y="21" width="1" height="1" fill="#505050"/>
<rect x="837" y="7" width="1" height="1" fill="#505050"/>
<rect x="837" y="21" width="1" height="1" fill="#505050"/>
<rect x="839" y="7" width="1" height="1" fill="#505050"/>
<rect x="839" y="21" width="1" height="1" fill="#505050"/>
<rect x="841" y="7" width="1" height="1" fill="#505050"/>
<rect x="841" y="21" width="1" height="1" fill="#505050"/>
<rect x="829" y="7" width="1" height="1" fill="#505050"/>
<rect x="841" y="7" width="1" height="1" fill="#505050"/>
<rect x="829" y="9" width="1" height="1" fill="#505050"/>
<rect x="841" y="9" width="1" height="1" fill="#505050"/>
<rect x="829" y="11" width="1" height="1" fill="#505050"/>
<rect x="841" y="11" width="1" height="1" fill="#505050"/>
<rect x="829" y="13" width="1" height="1" fill="#505050"/>
<rect x="841" y="13" width="1" height="1" fill="#505050"/>
<rect x="829" y="15" width="1" height="1" fill="#505050"/>
<rect x="841" y="15" width="1" height="1" fill="#505050"/>
<rect x="829" y="17" width="1" height="1" fill="#505050"/>
<rect x="841" y="17" width="1" height="1" fill="#505050"/>
<rect x="829" y="19" width="1" height="1" fill="#505050"/>
<rect x="841" y="19" width="1" height="1" fill="#505050"/>
<rect x="829" y="21" width="1" height="1" fill="#505050"/>
<rect x="841" y="21" width="1" height="1" fill="#505050"/>
<text x="831.3" y="19.5" font-size="11.5" fill="#505050" textLength="7.50" lengthAdjust="spacingAndGlyphs" font-weight="bold">T</text>
<g shape-rendering="auto" fill="#404040"><polygon points="856,11 859,8 862,11 859,14"/><polygon points="864,18 867,15 870,18 867,21"/><path d="M858,14 L861,17 L866,11" stroke="#404040" stroke-width="1.2" fill="none"/></g>
<polygon points="877,12.5 882,12.5 879.5,15.5" fill="#000" shape-rendering="auto"/>
<rect x="888" y="2" width="1" height="22" fill="#a0a0a0"/>
<rect x="889" y="2" width="1" height="22" fill="#ffffff"/>
<rect x="892" y="4" width="3" height="1" fill="#a8a8a8"/>
<rect x="892" y="6" width="3" height="1" fill="#a8a8a8"/>
<rect x="892" y="8" width="3" height="1" fill="#a8a8a8"/>
<rect x="892" y="10" width="3" height="1" fill="#a8a8a8"/>
<rect x="892" y="12" width="3" height="1" fill="#a8a8a8"/>
<rect x="892" y="14" width="3" height="1" fill="#a8a8a8"/>
<rect x="892" y="16" width="3" height="1" fill="#a8a8a8"/>
<rect x="892" y="18" width="3" height="1" fill="#a8a8a8"/>
<rect x="892" y="20" width="3" height="1" fill="#a8a8a8"/>
<rect x="892" y="22" width="3" height="1" fill="#a8a8a8"/>
<rect x="1038" y="2" width="26" height="22" fill="#f7f7f7"/>
<rect x="1038" y="2" width="26" height="1" fill="#a0a0a0"/>
<rect x="1038" y="2" width="1" height="22" fill="#a0a0a0"/>
<rect x="1038" y="23" width="26" height="1" fill="#ffffff"/>
<rect x="1063" y="2" width="1" height="22" fill="#ffffff"/>
<text x="903.6" y="18.3" font-size="10.8" fill="#3a3a3a" textLength="13.20" lengthAdjust="spacingAndGlyphs">M1</text>
<text x="931" y="18.3" font-size="10.8" fill="#3a3a3a" textLength="13.60" lengthAdjust="spacingAndGlyphs">M5</text>
<text x="957.8" y="18.3" font-size="10.8" fill="#3a3a3a" textLength="18.00" lengthAdjust="spacingAndGlyphs">M15</text>
<text x="985.8" y="18.3" font-size="10.8" fill="#3a3a3a" textLength="18.20" lengthAdjust="spacingAndGlyphs">M30</text>
<text x="1016.7" y="18.3" font-size="10.8" fill="#3a3a3a" textLength="12.20" lengthAdjust="spacingAndGlyphs">H1</text>
<text x="1043.5" y="18.3" font-size="10.8" fill="#3a3a3a" textLength="13.20" lengthAdjust="spacingAndGlyphs">H4</text>
<text x="1072.8" y="18.3" font-size="10.8" fill="#3a3a3a" textLength="11.90" lengthAdjust="spacingAndGlyphs">D1</text>
<text x="1099.9" y="18.3" font-size="10.8" fill="#3a3a3a" textLength="15.10" lengthAdjust="spacingAndGlyphs">W1</text>
<text x="1126.4" y="18.3" font-size="10.8" fill="#3a3a3a" textLength="15.70" lengthAdjust="spacingAndGlyphs">MN</text>
<rect x="1149" y="2" width="1" height="22" fill="#a0a0a0"/>
<rect x="1150" y="2" width="1" height="22" fill="#ffffff"/>
<g shape-rendering="auto"><circle cx="1619.3" cy="11.5" r="3.9" fill="#f4f6ff" stroke="#2a5cc8" stroke-width="1.3"/><line x1="1616.3" y1="14.7" x2="1612.6" y2="18.6" stroke="#2a5cc8" stroke-width="2"/></g>
<g shape-rendering="auto"><path d="M1641.5,11 Q1636.5,11 1636.5,15.5 Q1636.5,19.5 1640.5,20 L1639.5,22.5 L1643,20.2 Q1648,20 1648,15.5 Q1648,11 1641.5,11 Z" fill="#e4e6ec" stroke="#a8a8a8" stroke-width="0.8"/><defs><radialGradient id="bg1" cx="0.4" cy="0.3" r="0.7"><stop offset="0" stop-color="#ee5a3a"/><stop offset="1" stop-color="#d0200e"/></radialGradient></defs><circle cx="1650.6" cy="11.5" r="8" fill="url(#bg1)"/></g>
<text x="1647.3" y="16.1" font-size="13" fill="#fff" textLength="5.60" lengthAdjust="spacingAndGlyphs" font-weight="bold" style="font-family:&apos;Liberation Serif&apos;,serif">1</text>
</svg></body></html>
